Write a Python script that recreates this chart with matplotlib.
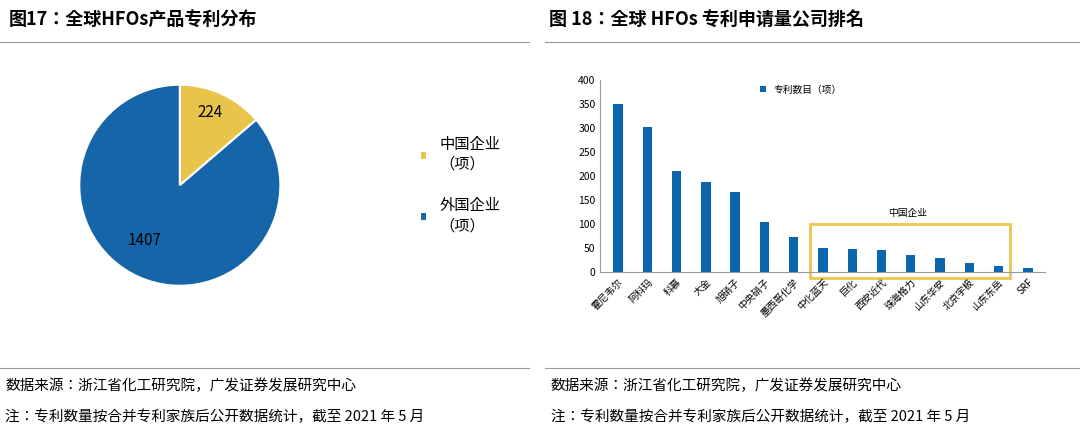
import matplotlib
matplotlib.use('Agg')
import matplotlib.pyplot as plt
from matplotlib import font_manager
from matplotlib.patches import Rectangle

# pick whatever CJK font is really installed
cjk = [f.name for f in font_manager.fontManager.ttflist if 'CJK' in f.name]
if not cjk:
    for path in font_manager.findSystemFonts():
        if 'CJK' in path or 'cjk' in path.lower():
            font_manager.fontManager.addfont(path)
    cjk = [f.name for f in font_manager.fontManager.ttflist if 'CJK' in f.name]
sc = [n for n in cjk if n.endswith('SC')]
plt.rcParams['font.family'] = (sc or cjk)[:1] + ['DejaVu Sans']

pie_labels = ['中国企业\n（项）', '外国企业\n（项）']
pie_values = [224, 1407]
pie_colors = ['#E8C54A', '#1665A8']

companies = ['霍尼韦尔', '阿科玛', '科慕', '大金', '旭硝子', '中央硝子', '墨西哥化学',
             '中化蓝天', '巨化', '西安近代', '珠海格力', '山东华安', '北京宇极', '山东东岳', 'SRF']
patents = [350, 302, 210, 187, 166, 105, 74, 50, 48, 47, 35, 30, 19, 13, 9]
bar_color = '#0B66AE'

fig = plt.figure(figsize=(10.8, 4.41), dpi=100)

# titles and separators
fig.text(0.008, 0.955, '图17：全球HFOs产品专利分布', fontsize=13, fontweight='bold', va='center')
fig.text(0.508, 0.955, '图 18：全球 HFOs 专利申请量公司排名', fontsize=13, fontweight='bold', va='center')
for x0, x1 in [(0.0, 0.49), (0.505, 1.0)]:
    fig.add_artist(plt.Line2D([x0, x1], [0.905, 0.905], color='#999999', lw=0.8))
    fig.add_artist(plt.Line2D([x0, x1], [0.165, 0.165], color='#999999', lw=0.8))
    fig.text(x0 + 0.005, 0.125, '数据来源：浙江省化工研究院，广发证券发展研究中心', fontsize=10.5, va='center')
    fig.text(x0 + 0.005, 0.055, '注：专利数量按合并专利家族后公开数据统计，截至 2021 年 5 月', fontsize=10.5, va='center')

# pie
ax1 = fig.add_axes([0.05, 0.295, 0.233, 0.57])
wedges, _ = ax1.pie(pie_values, colors=pie_colors, startangle=90, counterclock=False,
                    wedgeprops=dict(edgecolor='white', linewidth=1.5))
ax1.text(0.3, 0.72, str(pie_values[0]), ha='center', va='center', fontsize=11)
ax1.text(-0.35, -0.55, str(pie_values[1]), ha='center', va='center', fontsize=11)
ax1.set_aspect('equal')
ax1.legend(wedges, pie_labels, loc='center left', bbox_to_anchor=(1.4, 0.5), frameon=False,
           fontsize=11, labelspacing=1.6, handlelength=0.5, handleheight=0.5)

# bars
ax2 = fig.add_axes([0.556, 0.383, 0.412, 0.436])
x = range(len(companies))
ax2.bar(x, patents, width=0.32, color=bar_color, label='专利数目（项）')
ax2.set_ylim(0, 400)
ax2.set_yticks(range(0, 401, 50))
ax2.set_xlim(-0.6, len(companies) - 0.4)
ax2.set_xticks(list(x))
ax2.set_xticklabels(companies, rotation=45, ha='right', rotation_mode='anchor', fontsize=7)
ax2.tick_params(axis='y', labelsize=7.5, length=0)
ax2.tick_params(axis='x', length=0)
for s in ['top', 'right']:
    ax2.spines[s].set_visible(False)
ax2.spines['left'].set_color('#999999')
ax2.spines['bottom'].set_color('#999999')
ax2.legend(loc='upper center', frameon=False, fontsize=7, handlelength=0.6, handleheight=0.6,
           bbox_to_anchor=(0.45, 1.02))
ax2.add_patch(Rectangle((6.55, -12), 6.85, 112, fill=False, edgecolor='#EAC54F', lw=2, clip_on=False))
ax2.text(9.9, 112, '中国企业', ha='center', va='bottom', fontsize=7)

fig.savefig('out.png', dpi=100)
